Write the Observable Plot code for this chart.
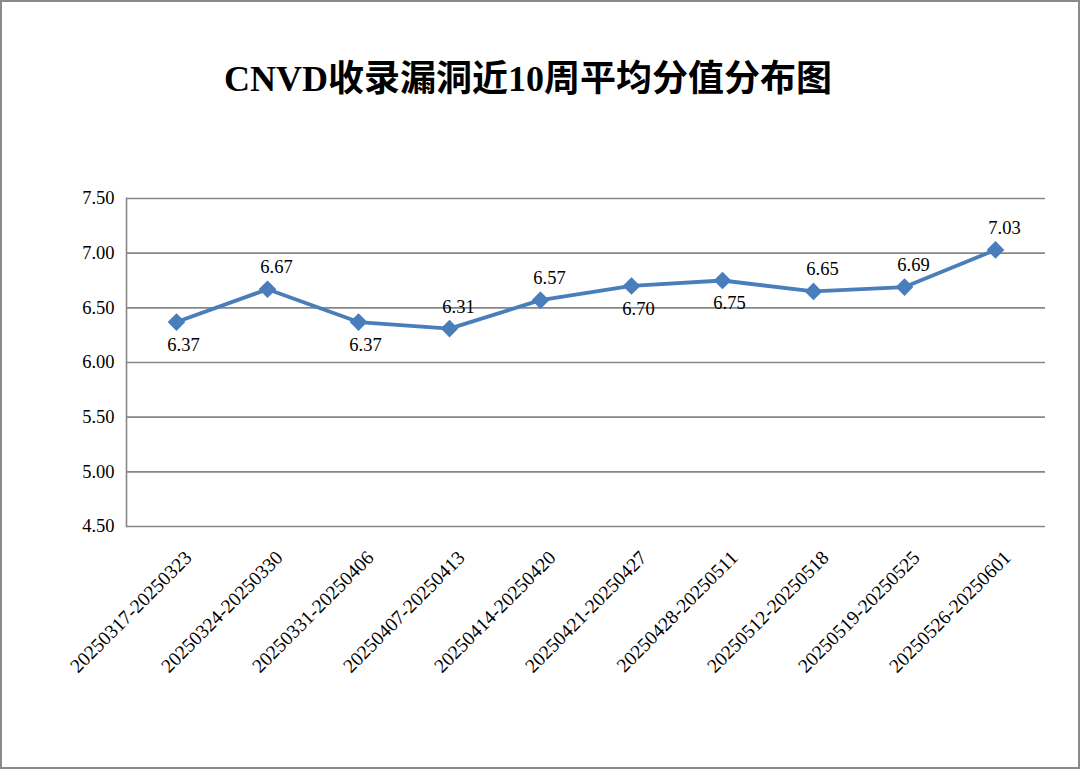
<!DOCTYPE html>
<html>
<head>
<meta charset="utf-8">
<script src="https://cdn.jsdelivr.net/npm/d3@7"></script>
<script src="https://cdn.jsdelivr.net/npm/@observablehq/plot@0.6"></script>
<style>
  html, body { margin: 0; padding: 0; background: #fff; }
  #wrap { position: relative; width: 1080px; height: 769px; box-sizing: border-box; border: 2px solid #8a8a8a; background: #fff; overflow: hidden; }
  #title { height: 95px; padding-top: 55px; padding-right: 24px; text-align: center; font-family: "Liberation Serif", "Times New Roman", "Noto Sans CJK SC", serif; font-weight: bold; font-size: 36px; line-height: 44px; color: #000; }
  svg { display: block; }
</style>
</head>
<body>
<div id="wrap">
  <div id="title">CNVD收录漏洞近10周平均分值分布图</div>
  <div id="chart"></div>
</div>
<script>
const weeks = ["20250317-20250323","20250324-20250330","20250331-20250406","20250407-20250413","20250414-20250420","20250421-20250427","20250428-20250511","20250512-20250518","20250519-20250525","20250526-20250601"];
const scores = [6.37, 6.67, 6.37, 6.31, 6.57, 6.70, 6.75, 6.65, 6.69, 7.03];
const labelSide = ["below","above","below","above","above","below","below","above","above","above"];
const yTicks = [4.5, 5.0, 5.5, 6.0, 6.5, 7.0, 7.5];

const data = weeks.map((w, i) => ({week: w, score: scores[i], side: labelSide[i]}));
const font = "'Liberation Serif', 'Times New Roman', serif";
const blue = "#4a7ebb";

const chart = Plot.plot({
  width: 1076,
  height: 615,
  marginTop: 46,
  marginBottom: 241,
  marginLeft: 124,
  marginRight: 33,
  style: {fontFamily: font, fontSize: "18px", color: "#000", background: "#fff"},
  x: {type: "point", domain: weeks, padding: 0.5, label: null},
  y: {domain: [4.5, 7.5], label: null},
  marks: [
    Plot.ruleY(yTicks, {stroke: "#878787", strokeWidth: 1.6}),
    Plot.frame({anchor: "left", stroke: "#878787", strokeWidth: 1.6}),
    Plot.axisY({ticks: yTicks, tickFormat: d => d.toFixed(2), tickSize: 0, tickPadding: 12, fontSize: 18.5, label: null}),
    Plot.axisX({tickRotate: -45, tickSize: 0, tickPadding: 28, dx: 12, fontSize: 19.5, label: null}),
    Plot.line(data, {x: "week", y: "score", stroke: blue, strokeWidth: 3.8}),
    Plot.dot(data, {x: "week", y: "score", symbol: "diamond2", r: 7, fill: blue, stroke: blue}),
    Plot.text(data.filter(d => d.side === "above"), {x: "week", y: "score", text: d => d.score.toFixed(2), dy: -22, dx: 9, fontSize: 18.5, fill: "#000"}),
    Plot.text(data.filter(d => d.side === "below"), {x: "week", y: "score", text: d => d.score.toFixed(2), dy: 23, dx: 7, fontSize: 18.5, fill: "#000"})
  ]
});
document.getElementById("chart").appendChild(chart);
</script>
</body>
</html>
